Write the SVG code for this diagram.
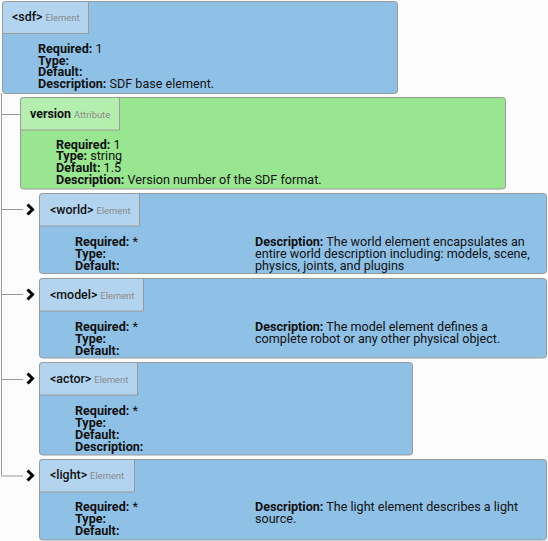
<svg xmlns="http://www.w3.org/2000/svg" width="548" height="541" viewBox="0 0 548 541">
<style>
text{font-family:Roboto,"Liberation Sans",sans-serif;fill:#111}
.box{fill:#8fc1e7;stroke:#9a9a9a;stroke-width:1}
.tab{fill:#b2d4ef;stroke:#9a9a9a;stroke-width:1}
.gbox{fill:#98e68f;stroke:#9a9a9a;stroke-width:1}
.gtab{fill:#b5efaf;stroke:#9a9a9a;stroke-width:1}
.name{font-size:12.4px;font-weight:500}
.vname{font-size:12.4px;font-weight:bold}
.kind{font-size:9.4px;fill:#8a8a8a;font-weight:normal}
.body{font-size:12.6px}
.k{font-weight:bold}
.line{stroke:#9a9a9a;stroke-width:1;fill:none}
.chev{stroke:#000;stroke-width:3;fill:none;stroke-linejoin:miter}
</style>
<rect width="548" height="541" fill="#fcfcfc"/>
<g id="connectors">
<path class="line" d="M1.5,93 V476 M1.5,114.5 H20 M1.5,209.5 H23 M1.5,294.5 H23 M1.5,379.5 H23 M1.5,476 H23"/>
<path class="chev" d="M27.5,204.5 L32.5,209.5 L27.5,214.5"/>
<path class="chev" d="M27.5,289.5 L32.5,294.5 L27.5,299.5"/>
<path class="chev" d="M27.5,373.5 L32.5,378.5 L27.5,383.5"/>
<path class="chev" d="M27.5,470.5 L32.5,475.5 L27.5,480.5"/>
</g>
<g id="sdf">
<rect class="box" x="2.5" y="1.5" width="395" height="92" rx="3"/>
<path class="tab" d="M2.5,33.5 V4.5 Q2.5,1.5 5.5,1.5 H88.5 V33.5 Z"/>
<text class="name" x="12" y="21">&lt;sdf&gt;<tspan class="kind" dx="3">Element</tspan></text>
<text class="body" x="38" y="53"><tspan class="k">Required:</tspan> 1</text>
<text class="body" x="38" y="64.7"><tspan class="k">Type:</tspan></text>
<text class="body" x="38" y="76.4"><tspan class="k">Default:</tspan></text>
<text class="body" x="38" y="88.1"><tspan class="k">Description:</tspan> SDF base element.</text>
</g>
<g id="version">
<rect class="gbox" x="20.5" y="97.5" width="485" height="91.5" rx="3"/>
<path class="gtab" d="M20.5,130 V100.5 Q20.5,97.5 23.5,97.5 H119.5 V130 Z"/>
<text class="vname" x="30" y="118">version<tspan class="kind" dx="3">Attribute</tspan></text>
<text class="body" x="56" y="148.5"><tspan class="k">Required:</tspan> 1</text>
<text class="body" x="56" y="160.2"><tspan class="k">Type:</tspan> string</text>
<text class="body" x="56" y="171.9"><tspan class="k">Default:</tspan> 1.5</text>
<text class="body" x="56" y="183.6"><tspan class="k">Description:</tspan> Version number of the SDF format.</text>
</g>
<g id="world">
<rect class="box" x="39.5" y="193.5" width="507" height="80" rx="3"/>
<path class="tab" d="M39.5,226 V196.5 Q39.5,193.5 42.5,193.5 H139.5 V226 Z"/>
<text class="name" x="50" y="214">&lt;world&gt;<tspan class="kind" dx="3">Element</tspan></text>
<text class="body" x="75" y="246"><tspan class="k">Required:</tspan> *</text>
<text class="body" x="75" y="258"><tspan class="k">Type:</tspan></text>
<text class="body" x="75" y="270"><tspan class="k">Default:</tspan></text>
<text class="body" x="255" y="246"><tspan class="k">Description:</tspan> The world element encapsulates an</text>
<text class="body" x="255" y="258">entire world description including: models, scene,</text>
<text class="body" x="255" y="270">physics, joints, and plugins</text>
</g>
<g id="model">
<rect class="box" x="39.5" y="278.5" width="507" height="79.5" rx="3"/>
<path class="tab" d="M39.5,311 V281.5 Q39.5,278.5 42.5,278.5 H143.5 V311 Z"/>
<text class="name" x="50" y="299">&lt;model&gt;<tspan class="kind" dx="3">Element</tspan></text>
<text class="body" x="75" y="331"><tspan class="k">Required:</tspan> *</text>
<text class="body" x="75" y="343"><tspan class="k">Type:</tspan></text>
<text class="body" x="75" y="355"><tspan class="k">Default:</tspan></text>
<text class="body" x="255" y="331"><tspan class="k">Description:</tspan> The model element defines a</text>
<text class="body" x="255" y="343">complete robot or any other physical object.</text>
</g>
<g id="actor">
<rect class="box" x="39.5" y="362.5" width="373" height="92.5" rx="3"/>
<path class="tab" d="M39.5,395 V365.5 Q39.5,362.5 42.5,362.5 H137.5 V395 Z"/>
<text class="name" x="50" y="383">&lt;actor&gt;<tspan class="kind" dx="3">Element</tspan></text>
<text class="body" x="75" y="415"><tspan class="k">Required:</tspan> *</text>
<text class="body" x="75" y="427"><tspan class="k">Type:</tspan></text>
<text class="body" x="75" y="439"><tspan class="k">Default:</tspan></text>
<text class="body" x="75" y="451"><tspan class="k">Description:</tspan></text>
</g>
<g id="light">
<rect class="box" x="39.5" y="459.5" width="507" height="80.5" rx="3"/>
<path class="tab" d="M39.5,492 V462.5 Q39.5,459.5 42.5,459.5 H134.5 V492 Z"/>
<text class="name" x="50" y="479">&lt;light&gt;<tspan class="kind" dx="3">Element</tspan></text>
<text class="body" x="75" y="511"><tspan class="k">Required:</tspan> *</text>
<text class="body" x="75" y="523"><tspan class="k">Type:</tspan></text>
<text class="body" x="75" y="535"><tspan class="k">Default:</tspan></text>
<text class="body" x="255" y="511"><tspan class="k">Description:</tspan> The light element describes a light</text>
<text class="body" x="255" y="523">source.</text>
</g>
</svg>
